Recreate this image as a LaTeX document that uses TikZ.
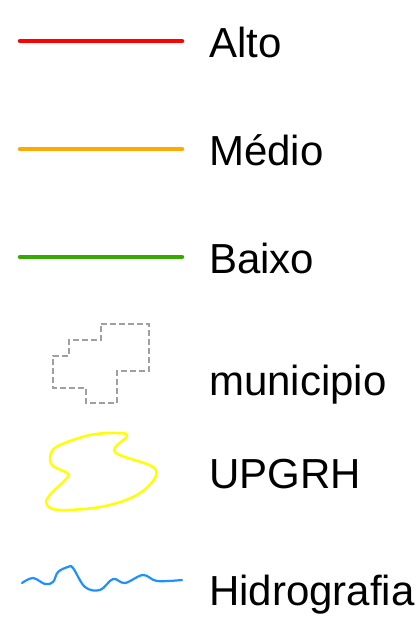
\documentclass[tikz,border=0pt]{standalone}
\usepackage{fontspec}
\setmainfont{Liberation Sans}
\definecolor{altocol}{RGB}{255,0,0}
\definecolor{mediocol}{RGB}{255,170,0}
\definecolor{baixocol}{RGB}{51,170,0}
\definecolor{riocol}{RGB}{30,144,255}
\definecolor{upcol}{RGB}{255,255,0}
\tikzset{
  legtext/.style={anchor=base west, inner sep=0pt, font=\fontsize{42}{50}\selectfont},
  legline/.style={line width=4.5pt, line cap=round},
}
\begin{document}
\begin{tikzpicture}[x=1pt,y=-1pt]
\useasboundingbox (0,0) rectangle (418,618);

% classes
\draw[legline,altocol] (20,41) -- (182,41);
\node[legtext] (alto) at (209,58) {Alto};
\draw[legline,mediocol] (20,149) -- (182,149);
\node[legtext] (medio) at (209,165) {Médio};
\draw[legline,baixocol] (20,257) -- (182,257);
\node[legtext] (baixo) at (209,273) {Baixo};

% municipio
\draw[gray!75,dash pattern=on 6pt off 3pt,line width=1.1pt] (101,324) -- (149,324) -- (149,371) -- (117,371) -- (117,403)
  -- (86,403) -- (86,388) -- (53,388) -- (53,356) -- (69,356) -- (69,340) -- (101,340) -- cycle;
\node[legtext] (municipio) at (209,395) {municipio};

% UPGRH
\draw[upcol,line width=2.5pt,line join=round] plot[smooth cycle,tension=0.6] coordinates {
  (127,436) (115,452) (153,467) (153,481) (133,497) (100,507) (60,510) (47,505)
  (49,496) (67,478) (67,473) (52,465) (51,453) (60,445) (90,435) (117,433)};
\node[legtext] (upgrh) at (209,488) {UPGRH};

% hidrografia
\draw[riocol,line width=2.2pt,line cap=round] plot[smooth,tension=0.6] coordinates {
  (22,583) (33,578) (45,584) (53,582) (58,572) (68,567) (73,568) (85,587) (100,590)
  (113,579) (125,583) (143,575) (157,581) (182,580)};
\node[legtext] (hidro) at (209,605) {Hidrografia};
\end{tikzpicture}
\end{document}
